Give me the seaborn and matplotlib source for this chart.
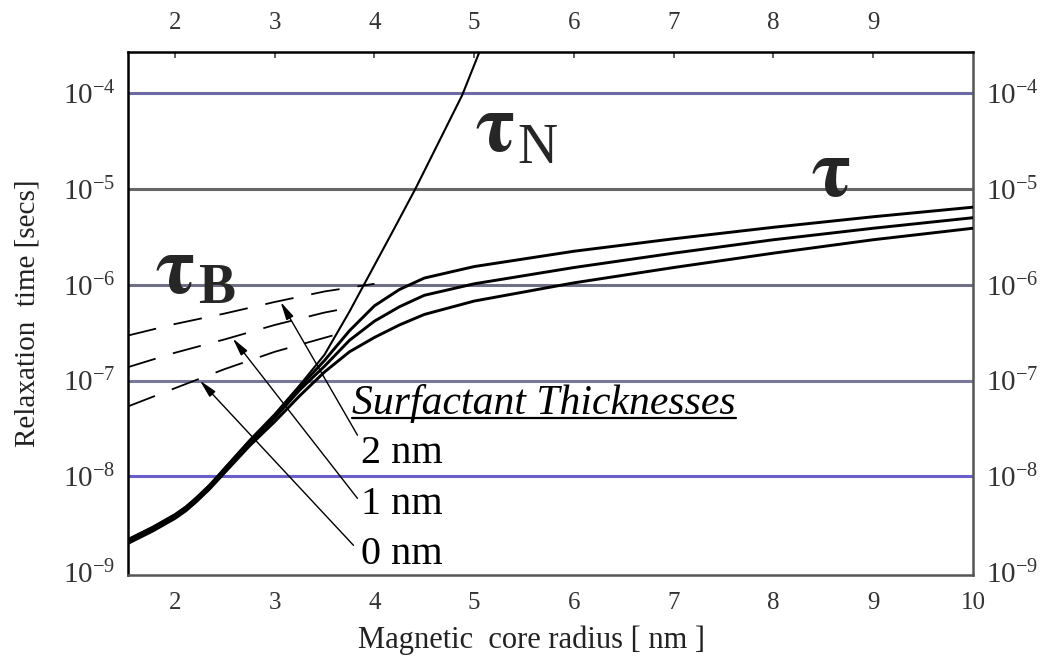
import numpy as np
import pandas as pd
import matplotlib
matplotlib.use("Agg")
import matplotlib.pyplot as plt
import seaborn as sns
from matplotlib.ticker import FixedLocator, LogFormatterSciNotation, NullLocator
from matplotlib.lines import Line2D
from matplotlib.transforms import IdentityTransform

# ---------------- data (log10 of seconds) ----------------
radius_eff = [1.53, 1.78, 2.0, 2.11, 2.22, 2.35, 2.5, 2.75, 3.0, 3.25, 3.5, 3.75, 4.0, 4.25, 4.5, 5.0, 6.0, 7.0, 8.0, 9.0, 10.0]
log_tau_2nm = [-8.66, -8.53, -8.40, -8.32, -8.22, -8.09, -7.92, -7.63, -7.37, -7.07, -6.79, -6.48, -6.22, -6.05, -5.93, -5.81, -5.65, -5.52, -5.40, -5.29, -5.19]
log_tau_1nm = [-8.68, -8.55, -8.42, -8.34, -8.24, -8.11, -7.94, -7.65, -7.39, -7.10, -6.85, -6.58, -6.38, -6.23, -6.11, -5.99, -5.82, -5.67, -5.53, -5.41, -5.30]
log_tau_0nm = [-8.70, -8.57, -8.44, -8.36, -8.26, -8.13, -7.96, -7.68, -7.43, -7.16, -6.91, -6.70, -6.55, -6.42, -6.31, -6.17, -5.98, -5.82, -5.67, -5.53, -5.41]

radius_neel = [1.53, 1.78, 2.0, 2.11, 2.22, 2.35, 2.5, 2.75, 3.0, 3.25, 3.5, 3.75, 3.9, 4.19, 4.41, 4.65, 4.88, 5.06]
log_tau_neel = [-8.66, -8.53, -8.40, -8.32, -8.22, -8.09, -7.91, -7.62, -7.35, -7.05, -6.73, -6.28, -5.99, -5.43, -5.00, -4.50, -4.02, -3.55]

radius_brown_2nm = [1.53, 2.0, 2.5, 3.0, 3.5, 4.0]
log_brown_2nm = [-6.53, -6.41, -6.30, -6.18, -6.07, -5.99]
radius_brown_1nm = [1.53, 2.0, 2.5, 3.0, 3.5, 3.7]
log_brown_1nm = [-6.86, -6.71, -6.57, -6.42, -6.29, -6.25]
radius_brown_0nm = [1.53, 2.0, 2.5, 3.0, 3.58]
log_brown_0nm = [-7.27, -7.08, -6.88, -6.70, -6.53]

thickness_labels = ["2 nm", "1 nm", "0 nm"]
label_log_y = [-7.86, -8.39, -8.91]
arrow_tip_r = [3.06, 2.58, 2.25]
arrow_tip_log = [-6.18, -6.56, -7.00]
arrow_tail_r = [3.83, 3.83, 3.79]
arrow_tail_log = [-7.57, -8.23, -8.72]

grid_exponents = [-4, -5, -6, -7, -8]
grid_colors = ["#6d6ba6", "#666666", "#6f6f86", "#78789a", "#6a5ecb"]

bottom_ticks = [2, 3, 4, 5, 6, 7, 8, 9, 10]
top_ticks = [2, 3, 4, 5, 6, 7, 8, 9]
y_ticks = [1e-9, 1e-8, 1e-7, 1e-6, 1e-5, 1e-4]

# ---------------- style ----------------
sns.set_theme(style="white")
plt.rcParams["font.family"] = ["Liberation Serif", "DejaVu Serif"]
plt.rcParams["mathtext.fontset"] = "stix"

fig = plt.figure(figsize=(10.53, 6.59), dpi=100)
ax = fig.add_axes([0.12156, 0.12747, 0.80247, 0.79363])

for e, c in zip(grid_exponents, grid_colors):
    ax.axhline(10.0 ** e, color=c, lw=2.2, zorder=1)

eff = pd.concat([
    pd.DataFrame({"radius": radius_eff, "tau": 10.0 ** np.array(log_tau_2nm), "t": "2 nm"}),
    pd.DataFrame({"radius": radius_eff, "tau": 10.0 ** np.array(log_tau_1nm), "t": "1 nm"}),
    pd.DataFrame({"radius": radius_eff, "tau": 10.0 ** np.array(log_tau_0nm), "t": "0 nm"}),
])
brown = pd.concat([
    pd.DataFrame({"radius": radius_brown_2nm, "tau": 10.0 ** np.array(log_brown_2nm), "t": "2 nm"}),
    pd.DataFrame({"radius": radius_brown_1nm, "tau": 10.0 ** np.array(log_brown_1nm), "t": "1 nm"}),
    pd.DataFrame({"radius": radius_brown_0nm, "tau": 10.0 ** np.array(log_brown_0nm), "t": "0 nm"}),
])

n0 = len(ax.lines)
sns.lineplot(data=brown, x="radius", y="tau", units="t", estimator=None,
             color="black", lw=1.3, ax=ax, legend=False, zorder=3)
for ln in ax.lines[n0:]:
    ln.set_linestyle((0, (16, 10)))

sns.lineplot(x=radius_neel, y=10.0 ** np.array(log_tau_neel), color="black",
             lw=1.5, ax=ax, zorder=4)
sns.lineplot(data=eff, x="radius", y="tau", units="t", estimator=None,
             color="black", lw=2.1, ax=ax, legend=False, zorder=5)

ax.set_yscale("log")
ax.set_xlim(1.53, 10.0)
ax.set_ylim(10 ** -9.03, 10 ** -3.57)

# ticks
ax.set_xticks(bottom_ticks)
ax.set_xticklabels([str(t) for t in bottom_ticks])
ax.tick_params(axis="x", direction="in", length=4, width=1.2, color="#444444",
               labelsize=18, labelcolor="#333333", pad=12)
sec = ax.secondary_xaxis("top")
sec.set_xticks(top_ticks)
sec.set_xticklabels([str(t) for t in top_ticks])
sec.tick_params(axis="x", direction="in", length=4, width=1.2, color="#444444",
                labelsize=18, labelcolor="#333333", pad=13)
sec.spines["top"].set_visible(False)

ax.yaxis.set_major_locator(FixedLocator(y_ticks))
ax.yaxis.set_minor_locator(NullLocator())
ax.yaxis.set_major_formatter(LogFormatterSciNotation())
ax.tick_params(axis="y", left=False, right=False, labelleft=True, labelright=True,
               length=0, labelsize=21, labelcolor="#333333", pad=9)

for side, col in [("left", "black"), ("top", "black"), ("bottom", "#555555"), ("right", "#555555")]:
    ax.spines[side].set_visible(True)
    ax.spines[side].set_color(col)
    ax.spines[side].set_linewidth(1.8)

ax.set_xlabel("Magnetic  core radius [ nm ]", fontsize=22, color="#222222")
ax.xaxis.set_label_coords(0.478, -0.097)
ax.set_ylabel("Relaxation  time [secs]", fontsize=21, color="#222222")
ax.yaxis.set_label_coords(-0.104, 0.5)

# arrows and labels
for tr, tl, hr, hl in zip(arrow_tail_r, arrow_tail_log, arrow_tip_r, arrow_tip_log):
    ax.annotate("", xy=(hr, 10.0 ** hl), xytext=(tr, 10.0 ** tl),
                arrowprops=dict(arrowstyle="-|>,head_length=0.9,head_width=0.2",
                                color="black", lw=1.0, shrinkA=0, shrinkB=0), zorder=6)
for lab, ly in zip(thickness_labels, label_log_y):
    ax.text(3.87, 10.0 ** ly, lab, fontsize=29, va="baseline", ha="left", color="black")

title_txt = ax.text(3.775, 10.0 ** -7.35, "Surfactant Thicknesses", fontsize=30,
                    style="italic", va="baseline", ha="left", color="black")

# tau symbols
tau_font = dict(fontsize=60, fontweight="bold", family="STIXGeneral", va="baseline", ha="left")
ax.text(5.0, 10.0 ** -4.60, "τ", **tau_font)
ax.text(5.43, 10.0 ** -4.73, "N", fontsize=40, va="baseline", ha="left")
ax.text(8.37, 10.0 ** -5.07, "τ", **tau_font)
ax.text(1.80, 10.0 ** -6.09, "τ", **tau_font)
ax.text(2.23, 10.0 ** -6.19, "B", fontsize=40, fontweight="bold", va="baseline", ha="left")

# underline of the surfactant title
fig.canvas.draw()
bb = title_txt.get_window_extent()
base_y = ax.transData.transform((3.775, 10.0 ** -7.35))[1]
fig.add_artist(Line2D([bb.x0, bb.x1], [base_y - 4, base_y - 4], transform=IdentityTransform(),
                      color="black", lw=1.6))

fig.savefig("out.png", dpi=100)
